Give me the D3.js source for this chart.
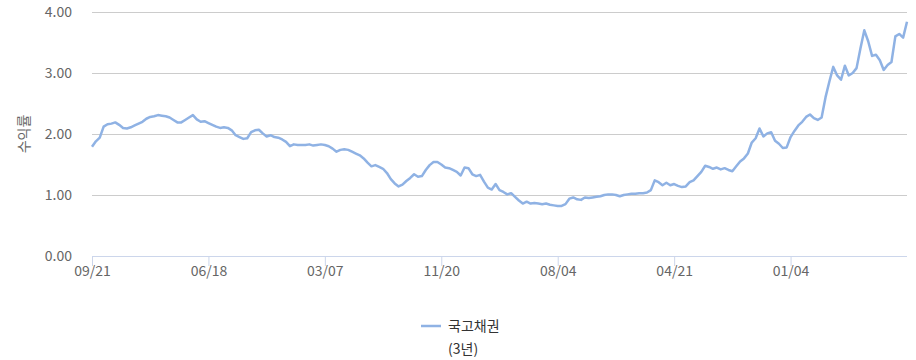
<!DOCTYPE html>
<html><head><meta charset="utf-8">
<script src="https://cdn.jsdelivr.net/npm/d3@7"></script>
<style>
html,body{margin:0;padding:0;background:#fff;}
svg{display:block;font-family:"Noto Sans CJK KR","Noto Sans",sans-serif;}
</style></head>
<body>
<svg id="chart" width="916" height="360"></svg>
<script>
// trading-day index of each x tick and its label
const tickDays = [0, 180, 360, 540, 720, 900, 1080];
const tickLabels = ["09/21", "06/18", "03/07", "11/20", "08/04", "04/21", "01/04"];
const yTicks = [0, 1, 2, 3, 4];
const stepDays = 6; // one value every 6 trading days
const seriesName = ["국고채권", "(3년)"];
const yTitle = "수익률";
const values = [
1.79,1.88,1.94,2.12,2.16,2.17,2.19,2.15,2.10,2.09,
2.11,2.14,2.17,2.20,2.25,2.28,2.29,2.31,2.30,2.29,
2.27,2.23,2.19,2.19,2.23,2.27,2.31,2.24,2.20,2.21,
2.18,2.15,2.12,2.10,2.11,2.10,2.06,1.98,1.95,1.92,
1.93,2.03,2.06,2.07,2.01,1.96,1.98,1.95,1.94,1.91,
1.87,1.80,1.83,1.82,1.82,1.82,1.83,1.81,1.82,1.83,
1.82,1.80,1.76,1.71,1.74,1.75,1.74,1.71,1.68,1.65,
1.60,1.53,1.47,1.49,1.46,1.43,1.36,1.26,1.19,1.14,
1.17,1.23,1.28,1.34,1.30,1.31,1.41,1.49,1.54,1.54,
1.50,1.45,1.44,1.41,1.38,1.32,1.45,1.44,1.34,1.31,
1.33,1.22,1.12,1.09,1.18,1.08,1.05,1.01,1.03,0.97,
0.91,0.86,0.89,0.86,0.87,0.86,0.85,0.86,0.84,0.83,
0.82,0.82,0.85,0.94,0.96,0.93,0.92,0.96,0.95,0.96,
0.97,0.98,1.00,1.01,1.01,1.00,0.98,1.00,1.01,1.02,
1.02,1.03,1.03,1.04,1.08,1.24,1.21,1.16,1.20,1.16,
1.18,1.15,1.13,1.14,1.21,1.24,1.31,1.38,1.48,1.46,
1.43,1.45,1.42,1.44,1.41,1.39,1.47,1.55,1.60,1.68,
1.86,1.93,2.09,1.96,2.01,2.03,1.89,1.84,1.77,1.78,
1.95,2.05,2.14,2.20,2.28,2.32,2.26,2.23,2.27,2.60,
2.86,3.10,2.96,2.89,3.12,2.96,3.00,3.08,3.40,3.70,
3.52,3.28,3.30,3.21,3.05,3.13,3.18,3.60,3.64,3.58,
3.84
];

const svg = d3.select("#chart");
const mLeft = 92, mRight = 907, mTop = 12, mBottom = 256;
const x = d3.scaleLinear().domain([0, 1260]).range([mLeft, mRight]);
const y = d3.scaleLinear().domain([0, 4]).range([mBottom, mTop]);
const fs = 14;

// grid lines
svg.append("g").selectAll("line").data(yTicks.filter(d => d > 0)).join("line")
  .attr("x1", mLeft).attr("x2", mRight)
  .attr("y1", d => y(d) + 0.5).attr("y2", d => y(d) + 0.5)
  .attr("stroke", "#cccccc").attr("stroke-width", 1);

// y labels
svg.append("g").selectAll("text").data(yTicks).join("text")
  .attr("x", 72).attr("y", d => y(d)).attr("dy", "0.35em")
  .attr("text-anchor", "end").attr("font-size", fs).attr("fill", "#666")
  .text(d => d.toFixed(2));

// y title
svg.append("text")
  .attr("transform", `translate(24,${(mTop + mBottom) / 2}) rotate(-90)`)
  .attr("text-anchor", "middle").attr("dy", "0.35em")
  .attr("font-size", fs).attr("fill", "#666").text(yTitle);

// x axis
const xAxis = d3.axisBottom(x).tickValues(tickDays)
  .tickFormat((d, i) => tickLabels[i]).tickSize(10).tickSizeOuter(0);
const gx = svg.append("g").attr("transform", `translate(0,${mBottom})`).call(xAxis);
gx.select(".domain").attr("stroke", "#ccd6eb").attr("d", `M${mLeft},0.5H${mRight}`);
gx.selectAll(".tick line").attr("stroke", "#ccd6eb");
gx.selectAll(".tick text").attr("font-size", fs).attr("fill", "#666")
  .attr("font-family", "'Noto Sans CJK KR','Noto Sans',sans-serif").attr("y", 10);

// line
const line = d3.line().x((d, i) => x(i * stepDays)).y(d => y(d));
svg.append("path").datum(values).attr("d", line)
  .attr("fill", "none").attr("stroke", "#8fb2e4").attr("stroke-width", 2.5)
  .attr("stroke-linejoin", "round");

// legend
const lg = svg.append("g");
lg.append("line").attr("x1", 421).attr("x2", 441).attr("y1", 326).attr("y2", 326)
  .attr("stroke", "#8fb2e4").attr("stroke-width", 2.5);
lg.selectAll("text").data(seriesName).join("text")
  .attr("x", 448).attr("y", (d, i) => 326 + i * 23).attr("dy", "0.35em")
  .attr("font-size", fs).attr("fill", "#333").text(d => d);
</script>
</body></html>
